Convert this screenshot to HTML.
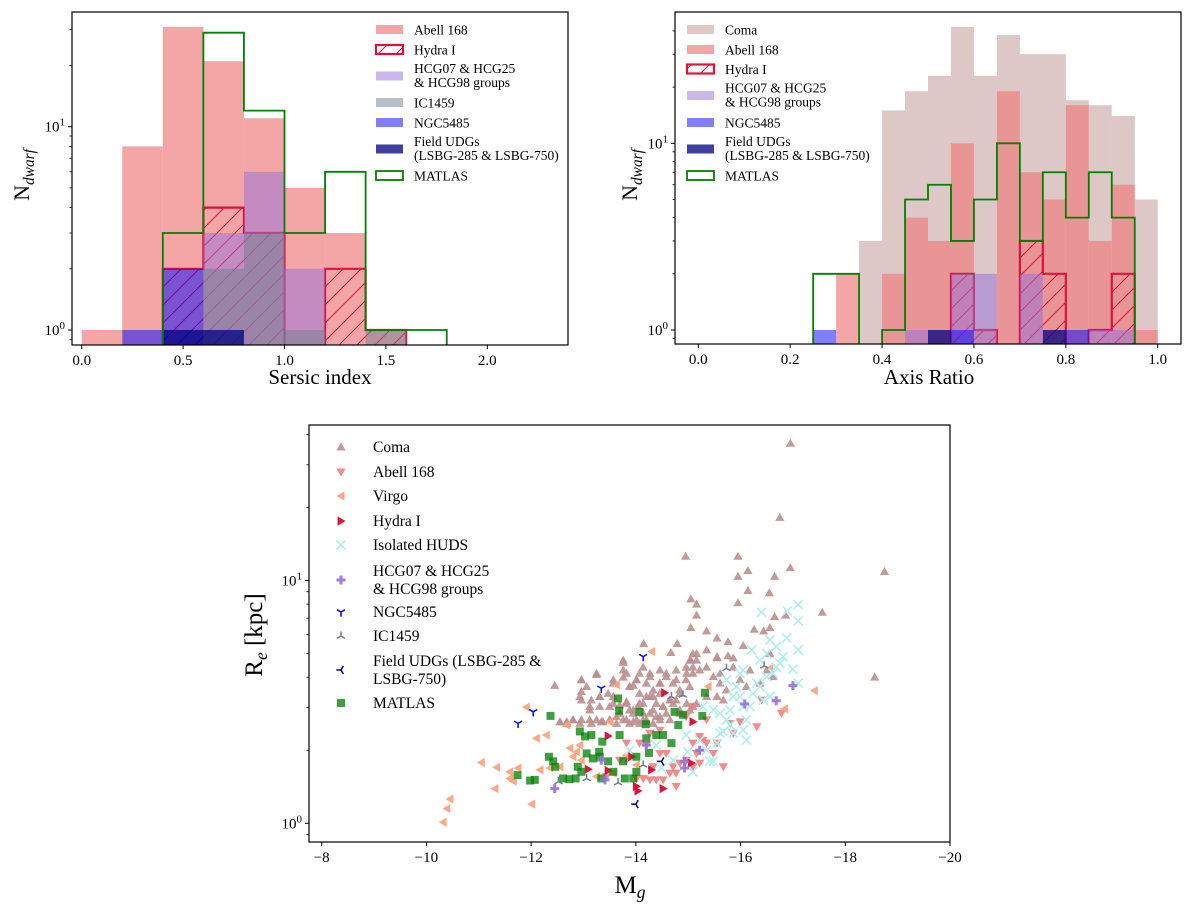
<!DOCTYPE html>
<html><head><meta charset="utf-8">
<style>
html,body{margin:0;padding:0;background:#fff;}
svg{display:block;font-family:"Liberation Serif","DejaVu Serif",serif;}
</style></head>
<body>
<svg id="fig" width="1200" height="915" viewBox="0 0 1200 915" xmlns="http://www.w3.org/2000/svg">
<defs>
<pattern id="hatch" patternUnits="userSpaceOnUse" width="18" height="18">
<path d="M-2,20 L20,-2 M-2,2 L2,-2 M16,20 L20,16" stroke="#dc143c" stroke-width="1"/>
</pattern>
<clipPath id="c1"><rect x="72" y="12" width="496" height="333"/></clipPath>
<clipPath id="c2"><rect x="675" y="12" width="506" height="332"/></clipPath>
<clipPath id="c3"><rect x="309" y="425" width="641" height="417"/></clipPath>
</defs>
</svg>
<script>
// ---------- Panel 1: Sersic index histogram ----------
const sersicEdges = [0,0.2,0.4,0.6,0.8,1.0,1.2,1.4,1.6,1.8];
const sersicAbell = [1,8,31,21,11,5,3,1,0];
const sersicHydra = [0,0,2,4,3,0,2,1,0];
const sersicHCG   = [0,0,0,3,6,2,0,0,0];
const sersicIC    = [0,0,0,2,3,1,0,1,0];
const sersicNGC   = [0,1,2,0,0,0,0,0,0];
const sersicField = [0,0,1,1,0,0,0,0,0];
const sersicMatlas= [0,0,3,29,12,3,6,1,1];
const sersicTicks = [0,0.5,1.0,1.5,2.0];
const sersicTickLabels = ["0.0","0.5","1.0","1.5","2.0"];

// ---------- Panel 2: Axis ratio histogram ----------
const qEdges = [0.25,0.3,0.35,0.4,0.45,0.5,0.55,0.6,0.65,0.7,0.75,0.8,0.85,0.9,0.95,1.0];
const qComa  = [0,0,3,15,19,23,42,23,38,30,30,17,16,14,5];
const qAbell = [0,2,0,2,4,3,10,1,19,7,5,16,3,6,1];
const qHydra = [0,0,0,0,0,0,2,1,0,3,2,0,1,2,0];
const qHCG   = [0,0,0,0,1,0,2,2,0,2,0,0,1,1,0];
const qNGC   = [1,0,0,0,0,0,1,0,0,0,0,1,0,0,0];
const qField = [0,0,0,0,0,1,0,0,0,0,1,0,0,0,0];
const qMatlas= [2,2,0,1,5,6,3,5,10,3,7,4,7,4,0];
const qTicks = [0,0.2,0.4,0.6,0.8,1.0];
const qTickLabels = ["0.0","0.2","0.4","0.6","0.8","1.0"];

// ---------- Panel 3: scatter ----------
const comaM = [-16.95,-16.75,-14.95,-15.95,-16.14,-16.95,-15.95,-16.65,-18.75,-16.14,-16.55,-15.05,-15.16,-15.95,-15.16,-16.65,-16.86,-17.56,-15.05,-15.35,-16.26,-16.44,-16.56,-15.55,-15.76,-16.05,-18.56,-14.79,-14.15,-14.67,-15.16,-15.05,-15.55,-15.76,-15.86,
-13.76,-14.14,-13.25,-12.96,-12.45,-13.76,-13.95,
-12.96,-12.96,-13.15,-13.31,-13.47,-13.57,-13.69,-13.82,-13.88,-13.95,-14.04,-14.14,-14.20,-14.33,-14.39,-14.52,-14.58,-14.71,-14.84,-14.97,-15.09,-13.15,-13.34,-13.50,-13.63,-13.82,-13.95,-14.07,-14.20,-14.33,-14.46,-12.55,-12.68,-12.80,-12.96,-13.57,-13.82,-14.01,-14.27,-14.46,-14.58,-14.77,-14.97,-15.09,-15.09,-15.16,-15.03,-13.88,-14.07,-14.27,-14.46,-14.65,-14.84,-15.03,-13.12,-13.31,-13.57,-14.14,-14.33,
-12.93,-13.12,-13.31,-13.50,-13.69,-13.82,-13.95,-14.07,-14.20,-14.33,-14.46,-14.58,-14.71,-14.84,-14.96,-15.09,-15.22,-15.35,-15.48,-15.61,-15.73,-15.55,-15.35,-15.16,-15.03,-14.84,-14.65,-14.46,-14.27,-14.14,-14.01,-13.88,-13.76,-13.63,-13.50,-13.37,-13.25,-13.12,-12.93,-12.80,-12.68,-12.55,-13.76,-13.76,-14.07,-14.27,-14.46,-14.77,-14.96,-13.25,-12.96,-13.06,-13.57,-13.88,-14.01,-14.20,-14.65,-14.39,-14.52,-14.77,-15.67,-15.61,-15.55,-15.35,-15.86,-15.99,-16.11,-16.18,-16.50,-16.56,-16.62,-16.37];
const comaRe = [36.8,18.2,12.6,12.6,11.0,11.3,10.4,10.4,10.9,9.1,8.9,8.4,8.0,8.1,7.2,7.1,7.2,7.4,6.4,6.2,6.3,6.2,6.4,5.8,5.6,5.4,4.0,5.5,5.5,5.05,5.0,4.7,4.8,4.9,4.8,
4.6,4.4,4.1,3.9,3.7,4.0,3.7,
3.49,3.22,3.22,3.03,3.43,3.12,3.07,3.17,2.93,2.84,3.03,2.84,2.67,2.93,2.75,3.03,2.84,3.12,2.93,3.12,3.03,2.58,2.62,2.67,2.58,2.67,2.62,2.58,2.62,2.58,2.67,2.62,2.58,2.67,2.67,3.90,4.15,3.90,4.02,3.78,4.15,3.90,4.15,4.4,5.0,4.7,4.7,3.66,3.43,3.33,3.43,3.22,3.43,3.66,2.93,3.33,3.33,3.12,3.33,
3.33,3.03,3.33,3.03,2.84,3.12,2.93,3.12,3.33,3.54,3.78,4.02,3.78,3.54,3.90,4.15,4.28,4.4,4.02,3.78,3.54,3.33,3.33,3.12,2.93,2.84,2.67,2.75,2.84,2.67,2.67,2.58,2.67,2.75,2.67,2.62,2.67,2.67,2.58,2.67,2.62,2.62,4.7,4.28,4.15,4.15,4.28,4.28,4.4,4.15,3.90,3.66,3.78,3.66,3.90,3.78,3.22,3.12,3.03,3.22,3.22,4.15,4.85,5.18,4.4,3.90,3.66,4.28,4.28,5.0,4.02,3.78];
const abellM = [-14.07,-14.20,-14.39,-14.52,-14.65,-14.77,-14.77,-14.58,-14.71,-14.33,-15.09,-15.22,-15.28,-15.35,-15.48,-15.16,-14.96,-15.09,-15.22,-15.67,-15.80,-15.99,-16.31,-16.40,-16.78,-15.35,-15.09,-14.96,-14.46,-14.27,-13.69,-13.82,-14.01,-14.14,-14.27,-13.44,-15.86,-15.55,-14.84,-14.46,-13.82];
const abellRe = [2.14,2.10,1.51,1.51,1.61,1.61,1.42,1.94,1.71,1.71,2.14,2.28,2.20,2.14,1.94,1.94,1.82,1.71,1.77,1.71,2.58,2.62,2.50,3.22,2.84,2.67,3.03,2.75,2.42,2.35,1.82,1.82,1.53,1.53,1.51,1.56,2.35,2.14,1.77,1.94,2.14];
const virgoM = [-10.32,-10.39,-10.45,-11.05,-11.34,-11.31,-11.59,-11.59,-11.66,-11.75,-11.91,-12.01,-12.10,-12.29,-12.36,-12.68,-12.74,-12.80,-12.87,-12.93,-12.96,-13.25,-13.50,-13.63,-14.30,-13.82,-14.01,-12.17,-12.55,-13.57,-15.38,-17.41,-16.84,-16.56];
const virgoRe = [1.01,1.15,1.26,1.78,1.70,1.39,1.63,1.53,1.49,1.69,3.01,1.20,2.24,2.31,1.69,2.54,2.04,1.88,1.97,2.10,1.82,1.56,2.62,3.72,5.1,1.91,1.74,1.66,1.71,1.61,3.66,3.52,2.96,4.35];
const hydraM = [-13.47,-13.09,-13.47,-13.92,-14.01,-14.04,-14.30,-14.52,-14.55,-15.06,-15.09];
const hydraRe = [2.29,1.67,1.65,1.88,1.42,1.36,1.66,1.39,3.45,1.77,2.62];
const hudsM = [-13.88,-14.39,-14.49,-14.71,-14.96,-14.99,-15.09,-15.22,-15.35,-15.41,-15.48,-15.55,-15.61,-15.67,-15.73,-15.80,-15.86,-15.61,-15.80,-15.86,-15.99,-16.05,-16.11,-16.11,-16.05,-16.18,-16.24,-16.31,-16.37,-16.43,-16.50,-16.56,-16.62,-16.37,-16.50,-16.68,-16.75,-16.68,-16.88,-16.81,-17.00,-17.10,-17.10,-17.10,-17.10,-16.89,-16.40,-16.21,-16.56,-15.99,-16.05,-15.73,-15.48,-15.28,-15.92];
const hudsRe = [2.0,2.10,1.69,1.82,2.31,1.97,1.63,2.20,2.0,1.80,1.80,2.14,2.35,2.39,2.67,2.54,2.35,2.84,2.93,3.33,3.33,3.03,2.67,2.20,2.42,3.03,3.43,3.78,3.66,3.22,4.02,3.33,4.15,4.7,5.0,4.4,4.56,5.35,5.8,4.85,4.31,5.18,3.78,6.82,7.97,7.5,7.4,5.18,5.7,4.15,4.28,3.90,2.93,3.03,3.66];
const hcgM = [-12.45,-13.34,-13.41,-14.20,-14.93,-14.93,-15.22,-16.08,-16.68,-17.00];
const hcgRe = [1.39,1.82,1.51,2.10,1.80,1.69,2.0,3.10,3.20,3.69];
const ngcM = [-11.75,-12.04,-13.34,-14.14];
const ngcRe = [2.58,2.88,3.6,4.86];
const icM = [-12.52,-13.06,-13.66,-14.14,-14.68,-14.90,-15.73,-16.45];
const icRe = [1.485,1.53,1.47,1.74,3.33,3.38,4.35,4.45];
const fieldM = [-14.0,-14.49];
const fieldRe = [1.20,1.80];
const matlasM = [-11.74,-11.98,-12.07,-12.37,-12.34,-12.42,-12.46,-12.61,-12.73,-12.85,-12.89,-12.93,-12.96,-13.03,-13.15,-13.06,-13.18,-13.30,-13.36,-13.31,-13.34,-13.47,-13.57,-13.69,-13.66,-13.68,-13.76,-13.79,-13.95,-14.01,-14.01,-14.07,-14.19,-14.20,-14.25,-14.39,-14.52,-14.68,-14.74,-14.81,-14.90,-15.32,-15.27];
const matlasRe = [1.58,1.50,1.51,2.77,1.88,1.80,1.71,1.53,1.52,1.53,1.71,2.39,1.63,2.28,2.31,1.94,1.85,1.97,2.17,1.88,1.53,1.80,1.63,2.31,3.27,2.91,1.80,1.53,1.53,1.88,1.63,2.88,2.56,2.24,1.95,2.31,2.31,2.14,2.88,2.54,2.80,3.45,2.77];
const magTicks = [-8,-10,-12,-14,-16,-18,-20];
const magTickLabels = ["\u22128","\u221210","\u221212","\u221214","\u221216","\u221218","\u221220"];

const NS = "http://www.w3.org/2000/svg";
const svg = document.getElementById('fig');
function mk(tag, attrs, parent) {
  const e = document.createElementNS(NS, tag);
  for (const k in attrs) e.setAttribute(k, attrs[k]);
  (parent || svg).appendChild(e);
  return e;
}
function lin(d0, d1, r0, r1) { return v => r0 + (v - d0) / (d1 - d0) * (r1 - r0); }
function logS(d0, d1, r0, r1) { const f = lin(Math.log10(d0), Math.log10(d1), r0, r1); return v => f(Math.log10(Math.max(v, 1e-3))); }

function drawAxes(box, xs, ys, xticks, xlabels, yMinors, name) {
  const g = mk('g', {});
  
  
  xticks.forEach((t, i) => {
    const x = xs(t);
    mk('line', {x1: x, x2: x, y1: box.b, y2: box.b + 4, stroke: '#000', 'stroke-width': 1}, g);
    const tx = mk('text', {x: x, y: box.b + 20, 'font-size': 15, 'text-anchor': 'middle'}, g);
    tx.textContent = xlabels[i];
    
    
  });
  yMinors.forEach(v => {
    const y = ys(v);
    const major = (v === 1 || v === 10);
    mk('line', {x1: box.l - (major ? 4 : 2.5), x2: box.l, y1: y, y2: y, stroke: '#000', 'stroke-width': major ? 1 : 0.8}, g);
    if (major) {
      const tx = mk('text', {x: box.l - 7, y: y + 5, 'font-size': 15, 'text-anchor': 'end'}, g);
      
      
      tx.appendChild(document.createTextNode('10'));
      const sp = mk('tspan', {dy: -6, 'font-size': 11}, tx);
      sp.textContent = v === 1 ? '0' : '1';
    }
  });
  const fr = mk('rect', {x: box.l, y: box.t, width: box.r - box.l, height: box.b - box.t, fill: 'none', stroke: '#000', 'stroke-width': 1.2}, g);
  
  
}

function drawHist(edges, counts, xs, ys, bottom, attrs, name, clip) {
  const g = mk('g', {'clip-path': 'url(#' + clip + ')'});
  
  
  counts.forEach((c, i) => {
    if (c <= 0) return;
    const x0 = xs(edges[i]), x1 = xs(edges[i + 1]), y = ys(c);
    const r = mk('rect', Object.assign({x: x0, y: y, width: x1 - x0, height: bottom - y + 5}, attrs), g);
    
    
  });
  return g;
}
function drawStep(edges, counts, xs, ys, bottom, stroke, sw, name, clip) {
  let d = 'M' + xs(edges[0]) + ',' + (bottom + 5);
  counts.forEach((c, i) => {
    const y = c > 0 ? ys(c) : bottom + 5;
    d += ' L' + xs(edges[i]) + ',' + y + ' L' + xs(edges[i + 1]) + ',' + y;
  });
  d += ' L' + xs(edges[edges.length - 1]) + ',' + (bottom + 5);
  const p = mk('path', {d: d, fill: 'none', stroke: stroke, 'stroke-width': sw, 'clip-path': 'url(#' + clip + ')'});
  
  
}
function drawHatchStep(edges, counts, xs, ys, bottom, name, clip) {
  let d = 'M' + xs(edges[0]) + ',' + (bottom + 5);
  counts.forEach((c, i) => {
    const y = c > 0 ? ys(c) : bottom + 5;
    d += ' L' + xs(edges[i]) + ',' + y + ' L' + xs(edges[i + 1]) + ',' + y;
  });
  d += ' L' + xs(edges[edges.length - 1]) + ',' + (bottom + 5) + ' Z';
  const p = mk('path', {d: d, fill: 'url(#hatch)', stroke: '#dc143c', 'stroke-width': 2.2, 'clip-path': 'url(#' + clip + ')'});
  
  
}

// Panel 1
const b1 = {l: 72, r: 568, t: 12, b: 345};
const x1 = lin(0, 2, 81.7, 487.3);
const y1 = logS(1, 10, 330, 126.7);
drawHist(sersicEdges, sersicAbell, x1, y1, b1.b, {fill: '#f08080', 'fill-opacity': 0.7}, 'sersic-abell168', 'c1');
drawHatchStep(sersicEdges, sersicHydra, x1, y1, b1.b, 'sersic-hydra', 'c1');
drawHist(sersicEdges, sersicHCG, x1, y1, b1.b, {fill: '#9370db', 'fill-opacity': 0.5}, 'sersic-hcg', 'c1');
drawHist(sersicEdges, sersicIC, x1, y1, b1.b, {fill: '#708090', 'fill-opacity': 0.5}, 'sersic-ic1459', 'c1');
drawHist(sersicEdges, sersicNGC, x1, y1, b1.b, {fill: '#0000ff', 'fill-opacity': 0.5}, 'sersic-ngc5485', 'c1');
drawHist(sersicEdges, sersicField, x1, y1, b1.b, {fill: '#000080', 'fill-opacity': 0.75}, 'sersic-field-udgs', 'c1');
drawStep(sersicEdges, sersicMatlas, x1, y1, b1.b, '#008000', 1.8, 'sersic-matlas', 'c1');
drawAxes(b1, x1, y1, sersicTicks, sersicTickLabels, [0.9,1,2,3,4,5,6,7,8,9,10,20,30], 'sersic');

// Panel 2
const b2 = {l: 675, r: 1181, t: 12, b: 344};
const x2 = lin(0, 1, 698.3, 1157.7);
const y2 = logS(1, 10, 330, 143.3);
drawHist(qEdges, qComa, x2, y2, b2.b, {fill: '#bc8f8f', 'fill-opacity': 0.5}, 'q-coma', 'c2');
drawHist(qEdges, qAbell, x2, y2, b2.b, {fill: '#f08080', 'fill-opacity': 0.7}, 'q-abell168', 'c2');
drawHatchStep(qEdges, qHydra, x2, y2, b2.b, 'q-hydra', 'c2');
drawHist(qEdges, qHCG, x2, y2, b2.b, {fill: '#9370db', 'fill-opacity': 0.5}, 'q-hcg', 'c2');
drawHist(qEdges, qNGC, x2, y2, b2.b, {fill: '#0000ff', 'fill-opacity': 0.5}, 'q-ngc5485', 'c2');
drawHist(qEdges, qField, x2, y2, b2.b, {fill: '#000080', 'fill-opacity': 0.75}, 'q-field-udgs', 'c2');
drawStep(qEdges, qMatlas, x2, y2, b2.b, '#008000', 1.8, 'q-matlas', 'c2');
drawAxes(b2, x2, y2, qTicks, qTickLabels, [0.9,1,2,3,4,5,6,7,8,9,10,20,30,40], 'q');

// Panel 3
const b3 = {l: 309, r: 950, t: 425, b: 842};
const x3 = lin(-8, -20, 321.7, 950);
const y3 = logS(1, 10, 823.3, 580.6);
const sg = mk('g', {'clip-path': 'url(#c3)'});



function marker(type, cx, cy, color, parent, alpha) {
  const s = 4.6;
  let e;
  if (type === 'up') e = mk('polygon', {points: `${cx},${cy-s} ${cx-s},${cy+s*0.75} ${cx+s},${cy+s*0.75}`, fill: color, 'fill-opacity': alpha}, parent);
  else if (type === 'down') e = mk('polygon', {points: `${cx},${cy+s} ${cx-s},${cy-s*0.75} ${cx+s},${cy-s*0.75}`, fill: color, 'fill-opacity': alpha}, parent);
  else if (type === 'left') e = mk('polygon', {points: `${cx-s},${cy} ${cx+s*0.75},${cy-s} ${cx+s*0.75},${cy+s}`, fill: color, 'fill-opacity': alpha}, parent);
  else if (type === 'right') e = mk('polygon', {points: `${cx+s},${cy} ${cx-s*0.75},${cy-s} ${cx-s*0.75},${cy+s}`, fill: color, 'fill-opacity': alpha}, parent);
  else if (type === 'x') e = mk('path', {d: `M${cx-s},${cy-s}L${cx+s},${cy+s}M${cx-s},${cy+s}L${cx+s},${cy-s}`, stroke: color, 'stroke-width': 1.6, fill: 'none', 'stroke-opacity': alpha}, parent);
  else if (type === 'plus') { const a = 4.5, w = 1.5; e = mk('path', {d: `M${cx-w},${cy-a}h${2*w}v${a-w}h${a-w}v${2*w}h${-(a-w)}v${a-w}h${-2*w}v${-(a-w)}h${-(a-w)}v${-2*w}h${a-w}Z`, fill: color, 'fill-opacity': alpha}, parent); }
  else if (type === 'tri1') e = mk('path', {d: `M${cx},${cy}L${cx},${cy+s}M${cx},${cy}L${cx-s*0.87},${cy-s*0.5}M${cx},${cy}L${cx+s*0.87},${cy-s*0.5}`, stroke: color, 'stroke-width': 1.5, fill: 'none'}, parent);
  else if (type === 'tri2') e = mk('path', {d: `M${cx},${cy}L${cx},${cy-s}M${cx},${cy}L${cx-s*0.87},${cy+s*0.5}M${cx},${cy}L${cx+s*0.87},${cy+s*0.5}`, stroke: color, 'stroke-width': 1.5, fill: 'none'}, parent);
  else if (type === 'tri4') e = mk('path', {d: `M${cx},${cy}L${cx-s},${cy}M${cx},${cy}L${cx+s*0.5},${cy-s*0.87}M${cx},${cy}L${cx+s*0.5},${cy+s*0.87}`, stroke: color, 'stroke-width': 1.5, fill: 'none'}, parent);
  else if (type === 'sq') e = mk('rect', {x: cx-4, y: cy-4, width: 8, height: 8, fill: color, 'fill-opacity': alpha}, parent);
  return e;
}
const seriesDefs = [
  {name: 'coma', M: comaM, R: comaRe, t: 'up', c: '#bc8f8f', a: 0.9, label: ['Coma']},
  {name: 'abell168', M: abellM, R: abellRe, t: 'down', c: '#f08080', a: 0.9, label: ['Abell 168']},
  {name: 'virgo', M: virgoM, R: virgoRe, t: 'left', c: '#ffa07a', a: 0.9, label: ['Virgo']},
  {name: 'hydra', M: hydraM, R: hydraRe, t: 'right', c: '#dc143c', a: 1, label: ['Hydra I']},
  {name: 'isolated-huds', M: hudsM, R: hudsRe, t: 'x', c: '#afeeee', a: 1, label: ['Isolated HUDS']},
  {name: 'hcg', M: hcgM, R: hcgRe, t: 'plus', c: '#9370db', a: 0.9, label: ['HCG07 & HCG25', '& HCG98 groups']},
  {name: 'ngc5485', M: ngcM, R: ngcRe, t: 'tri1', c: '#0000ff', a: 1, label: ['NGC5485']},
  {name: 'ic1459', M: icM, R: icRe, t: 'tri2', c: '#708090', a: 1, label: ['IC1459']},
  {name: 'field-udgs', M: fieldM, R: fieldRe, t: 'tri4', c: '#000080', a: 1, label: ['Field UDGs (LSBG-285 &', 'LSBG-750)']},
  {name: 'matlas', M: matlasM, R: matlasRe, t: 'sq', c: '#008000', a: 0.75, label: ['MATLAS']}
];
const drawOrder = ['coma','abell168','virgo','hydra','isolated-huds','matlas','hcg','ngc5485','ic1459','field-udgs'];
drawOrder.forEach(n => {
  const s = seriesDefs.find(d => d.name === n);
  s.M.forEach((m, i) => {
    const e = marker(s.t, x3(m), y3(s.R[i]), s.c, sg, s.a);
    
    
  });
});
drawAxes(b3, x3, y3, magTicks, magTickLabels, [0.9,1,2,3,4,5,6,7,8,9,10,20,30,40], 'scatter');

// scatter legend
const lg3 = mk('g', {});


const lgY = [447, 472, 496, 521, 545, 580, 612, 636, 670, 703];
seriesDefs.forEach((s, i) => {
  const ent = mk('g', {}, lg3);
  
  
  marker(s.t, 341, lgY[i], s.c, ent, s.a);
  if (s.label.length === 1) {
    const t = mk('text', {x: 373, y: lgY[i] + 5, 'font-size': 15.5}, ent); t.textContent = s.label[0];
  } else {
    const t1 = mk('text', {x: 373, y: lgY[i] - 4, 'font-size': 15.5}, ent); t1.textContent = s.label[0];
    const t2 = mk('text', {x: 373, y: lgY[i] + 14, 'font-size': 15.5}, ent); t2.textContent = s.label[1];
  }
});

// histogram legends
function histLegend(x0, entries, name) {
  const g = mk('g', {});
  
  
  entries.forEach(en => {
    const ent = mk('g', {}, g);
    
    
    const a = {x: x0, y: en.y - 4.5, width: 27, height: 9};
    if (en.kind === 'fill') mk('rect', Object.assign(a, {fill: en.c, 'fill-opacity': en.a}), ent);
    else if (en.kind === 'hatch') mk('rect', Object.assign(a, {fill: 'url(#hatch)', stroke: '#dc143c', 'stroke-width': 2.2}), ent);
    else mk('rect', Object.assign(a, {fill: 'none', stroke: '#008000', 'stroke-width': 1.8}), ent);
    if (en.t.length === 1) { const t = mk('text', {x: x0 + 38, y: en.y + 5, 'font-size': 13.5}, ent); t.textContent = en.t[0]; }
    else {
      const t1 = mk('text', {x: x0 + 38, y: en.y - 3, 'font-size': 13.5}, ent); t1.textContent = en.t[0];
      const t2 = mk('text', {x: x0 + 38, y: en.y + 11, 'font-size': 13.5}, ent); t2.textContent = en.t[1];
    }
  });
}
histLegend(376, [
  {id: 'abell168', y: 29.5, kind: 'fill', c: '#f08080', a: 0.7, t: ['Abell 168']},
  {id: 'hydra', y: 49.5, kind: 'hatch', t: ['Hydra I']},
  {id: 'hcg', y: 76, kind: 'fill', c: '#9370db', a: 0.5, t: ['HCG07 & HCG25', '& HCG98 groups']},
  {id: 'ic1459', y: 102.5, kind: 'fill', c: '#708090', a: 0.5, t: ['IC1459']},
  {id: 'ngc5485', y: 122.5, kind: 'fill', c: '#0000ff', a: 0.5, t: ['NGC5485']},
  {id: 'field-udgs', y: 149, kind: 'fill', c: '#000080', a: 0.75, t: ['Field UDGs', '(LSBG-285 & LSBG-750)']},
  {id: 'matlas', y: 175.5, kind: 'step', t: ['MATLAS']}
], 'sersic-legend');
histLegend(687, [
  {id: 'coma', y: 29.5, kind: 'fill', c: '#bc8f8f', a: 0.5, t: ['Coma']},
  {id: 'abell168', y: 49.5, kind: 'fill', c: '#f08080', a: 0.7, t: ['Abell 168']},
  {id: 'hydra', y: 69, kind: 'hatch', t: ['Hydra I']},
  {id: 'hcg', y: 95.5, kind: 'fill', c: '#9370db', a: 0.5, t: ['HCG07 & HCG25', '& HCG98 groups']},
  {id: 'ngc5485', y: 122.5, kind: 'fill', c: '#0000ff', a: 0.5, t: ['NGC5485']},
  {id: 'field-udgs', y: 149, kind: 'fill', c: '#000080', a: 0.75, t: ['Field UDGs', '(LSBG-285 & LSBG-750)']},
  {id: 'matlas', y: 175.5, kind: 'step', t: ['MATLAS']}
], 'q-legend');

// axis titles
function title(x, y, main, sub, size, rot, name) {
  const t = mk('text', {x: x, y: y, 'font-size': size, 'text-anchor': 'middle'});
  if (rot) t.setAttribute('transform', `rotate(-90 ${x} ${y})`);
  
  
  t.appendChild(document.createTextNode(main));
  if (sub) { const s = mk('tspan', {dy: 5, 'font-size': size * 0.7, 'font-style': 'italic'}, t); s.textContent = sub; }
  return t;
}
title(29, 175, 'N', 'dwarf', 22, true, 'sersic-y-axis-title');
title(320, 384, 'Sersic index', null, 21, false, 'sersic-x-axis-title');
title(637, 175, 'N', 'dwarf', 22, true, 'q-y-axis-title');
title(929, 384, 'Axis Ratio', null, 21, false, 'q-x-axis-title');
const ry = title(262, 635, 'R', 'e', 25, true, 'scatter-y-axis-title');
const kp = mk('tspan', {dy: -5}, ry); kp.textContent = ' [kpc]';
title(630, 893, 'M', 'g', 25, false, 'scatter-x-axis-title');
</script>
</body></html>
